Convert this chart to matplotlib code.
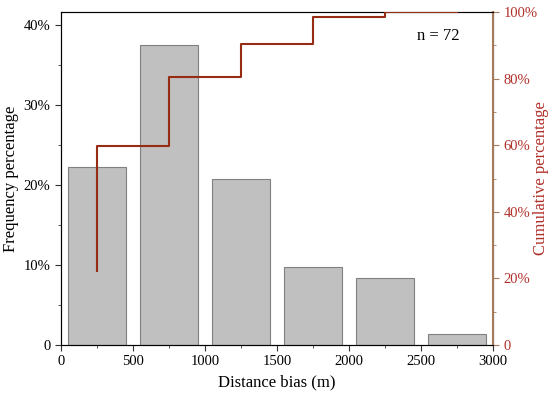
import numpy as np
import matplotlib
matplotlib.use("Agg")
import matplotlib.pyplot as plt
from matplotlib.ticker import FuncFormatter, MultipleLocator

plt.rcParams['font.family'] = ['Liberation Serif', 'DejaVu Serif']

bin_centers = [250, 750, 1250, 1750, 2250, 2750]
frequency = [22.22, 37.50, 20.83, 9.72, 8.33, 1.39]  # percent (n = 72)
cumulative = list(np.cumsum(frequency))
n_samples = 72

bar_color = '#c0c0c0'
edge_color = '#808080'
line_color = '#962d12'
right_color = '#b0302a'
spine_right = '#a87a5c'

fig = plt.figure(figsize=(5.5, 3.93), dpi=100)
ax = fig.add_axes([61/550, 48/393, 432/550, 333/393])
ax.bar(bin_centers, frequency, width=400, color=bar_color, edgecolor=edge_color, linewidth=0.8, zorder=2)
ax.set_xlim(0, 3000)
ax.set_ylim(0, 100/2.4)
ax.xaxis.set_major_locator(MultipleLocator(500))
ax.xaxis.set_minor_locator(MultipleLocator(250))
ax.yaxis.set_major_locator(MultipleLocator(10))
ax.yaxis.set_minor_locator(MultipleLocator(5))
ax.yaxis.set_major_formatter(FuncFormatter(lambda v, p: '0' if v == 0 else f'{v:.0f}%'))
ax.tick_params(axis='both', which='major', direction='out', length=4, labelsize=10.5, color='#333333')
ax.tick_params(axis='both', which='minor', direction='out', length=2, color='#333333')
ax.set_xlabel('Distance bias (m)', fontsize=12)
ax.set_ylabel('Frequency percentage', fontsize=12)
ax.yaxis.set_label_coords(-0.097, 0.5)
for s in ['left', 'bottom', 'top']:
    ax.spines[s].set_color('#333333')

ax2 = ax.twinx()
xs = [bin_centers[0]] + list(bin_centers)
ys = [frequency[0]] + list(cumulative[1:]) + [cumulative[-1]]
ax2.step(xs, ys, where='post', color=line_color, linewidth=1.5, zorder=3)
ax2.set_ylim(0, 100)
ax2.yaxis.set_major_locator(MultipleLocator(20))
ax2.yaxis.set_minor_locator(MultipleLocator(10))
ax2.yaxis.set_major_formatter(FuncFormatter(lambda v, p: '0' if v == 0 else f'{v:.0f}%'))
ax2.tick_params(axis='y', which='major', direction='out', length=4, labelsize=10.5,
                colors=right_color, color=spine_right)
ax2.tick_params(axis='y', which='minor', direction='out', length=2, color=spine_right)
ax2.spines['right'].set_color(spine_right)
ax2.spines['right'].set_linewidth(1.5)
ax2.set_ylabel('Cumulative percentage', fontsize=12, color=right_color)
ax2.yaxis.set_label_coords(1.093, 0.5)

ax.text(2620, 38.7, f'n = {n_samples}', fontsize=12, ha='center', va='center')

fig.savefig('out.png', dpi=100)
